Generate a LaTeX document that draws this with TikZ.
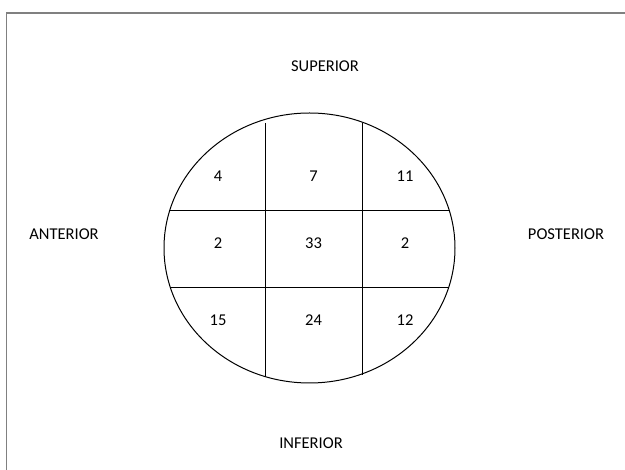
\documentclass[tikz,border=0pt]{standalone}
\usepackage{fontspec}
\setmainfont{Carlito}
\usetikzlibrary{shapes.geometric}
\begin{document}
\begin{tikzpicture}[x=1pt,y=-1pt,
  lbl/.style={inner sep=0pt,font=\fontsize{16.5}{19}\selectfont},
  cell/.style={inner sep=0pt,font=\fontsize{16.5}{19}\selectfont},
  grid/.style={line width=1pt,black}]
\useasboundingbox (0,0) rectangle (625,470);
% frame
\draw[line width=1.4pt,color=black!50] (6.5,470) -- (6.5,13) -- (625,13);
% ellipse
\node[ellipse,draw,line width=1pt,minimum width=291pt,minimum height=270pt,inner sep=0pt] (ell) at (309.5,248) {};
% grid
\coordinate (v1t) at (265.5,123);
\coordinate (v1b) at (265.5,376.7);
\coordinate (v2t) at (362,123);
\coordinate (v2b) at (362,375.5);
\coordinate (h1l) at (169.4,211);
\coordinate (h1r) at (449.5,211);
\coordinate (h2l) at (170.5,288);
\coordinate (h2r) at (448.5,288);
\draw[grid] (v1t) -- (v1b);
\draw[grid] (v2t) -- (v2b);
\draw[grid] (h1l) -- (h1r);
\draw[grid] (h2l) -- (h2r);
% cells
\node[cell] (c11) at (218,176) {4};
\node[cell] (c12) at (313.5,176) {7};
\node[cell] (c13) at (405,176) {11};
\node[cell] (c21) at (218,243) {2};
\node[cell] (c22) at (313.5,243) {33};
\node[cell] (c23) at (405,243) {2};
\node[cell] (c31) at (218,320) {15};
\node[cell] (c32) at (313.5,320) {24};
\node[cell] (c33) at (405,320) {12};
% labels
\node[lbl] (sup) at (325,66) {SUPERIOR};
\node[lbl] (ant) at (64,234.5) {ANTERIOR};
\node[lbl] (pos) at (566,234.5) {POSTERIOR};
\node[lbl] (inf) at (311,443) {INFERIOR};
\end{tikzpicture}
\end{document}
